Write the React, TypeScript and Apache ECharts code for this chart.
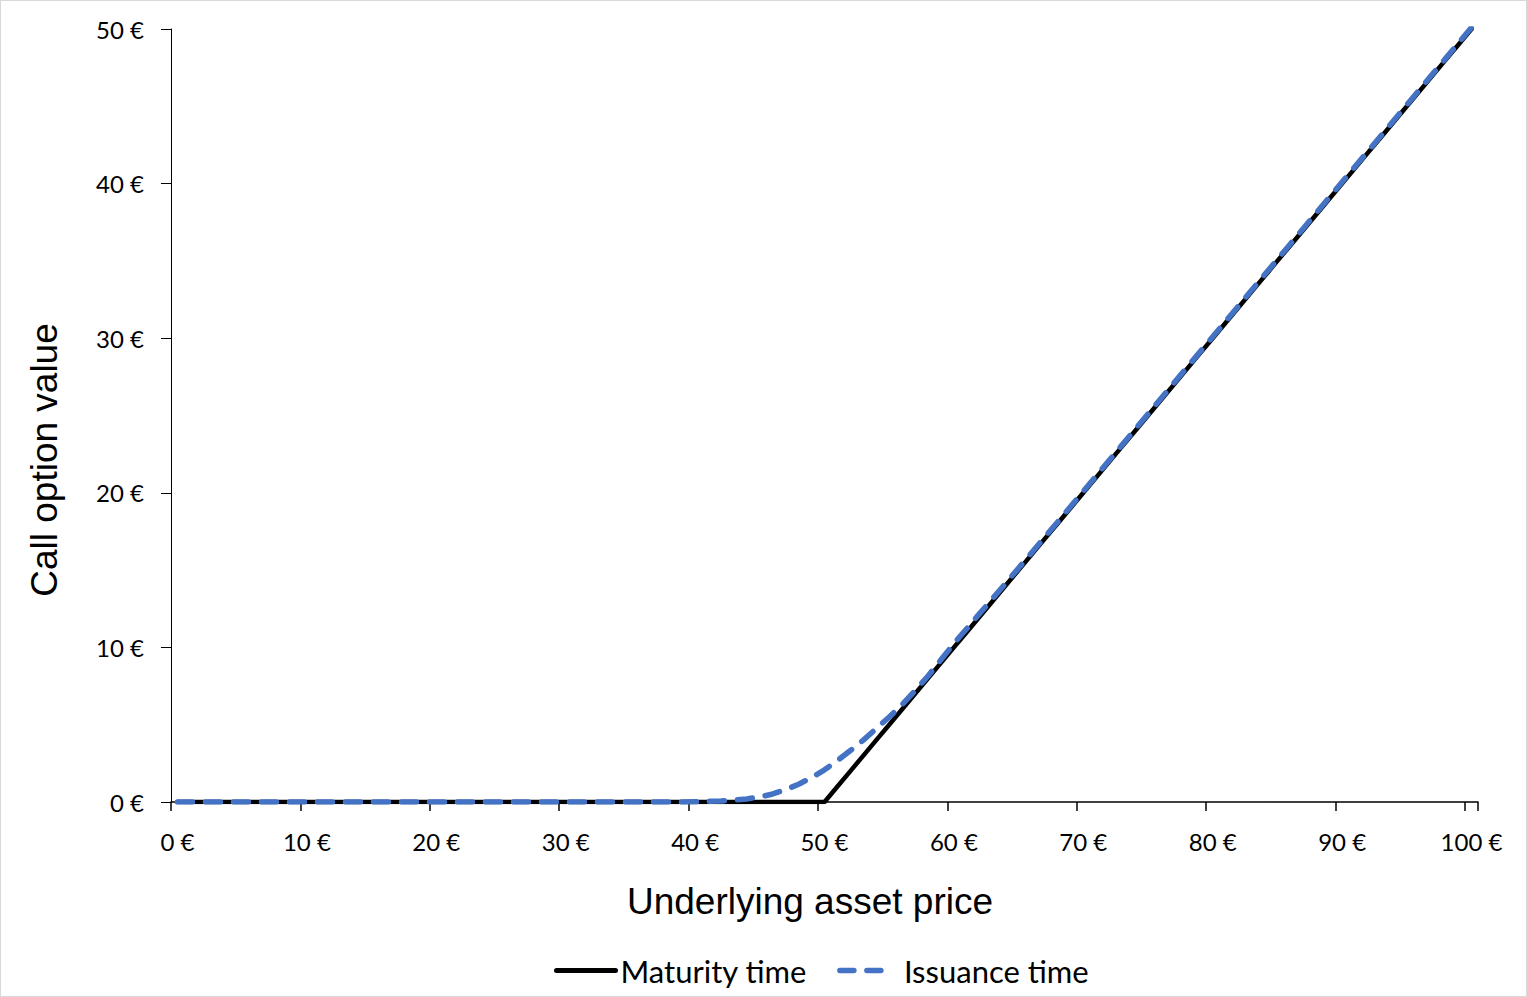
import React, { useEffect, useRef } from "react";
import * as echarts from "echarts";

const prices: string[] = [
  "0 €", "1 €", "2 €", "3 €", "4 €", "5 €", "6 €", "7 €", "8 €", "9 €",
  "10 €", "11 €", "12 €", "13 €", "14 €", "15 €", "16 €", "17 €", "18 €", "19 €",
  "20 €", "21 €", "22 €", "23 €", "24 €", "25 €", "26 €", "27 €", "28 €", "29 €",
  "30 €", "31 €", "32 €", "33 €", "34 €", "35 €", "36 €", "37 €", "38 €", "39 €",
  "40 €", "41 €", "42 €", "43 €", "44 €", "45 €", "46 €", "47 €", "48 €", "49 €",
  "50 €", "51 €", "52 €", "53 €", "54 €", "55 €", "56 €", "57 €", "58 €", "59 €",
  "60 €", "61 €", "62 €", "63 €", "64 €", "65 €", "66 €", "67 €", "68 €", "69 €",
  "70 €", "71 €", "72 €", "73 €", "74 €", "75 €", "76 €", "77 €", "78 €", "79 €",
  "80 €", "81 €", "82 €", "83 €", "84 €", "85 €", "86 €", "87 €", "88 €", "89 €",
  "90 €", "91 €", "92 €", "93 €", "94 €", "95 €", "96 €", "97 €", "98 €", "99 €",
  "100 €",
];

const maturityValues: number[] = [
  0, 0, 0, 0, 0, 0, 0, 0, 0, 0,
  0, 0, 0, 0, 0, 0, 0, 0, 0, 0,
  0, 0, 0, 0, 0, 0, 0, 0, 0, 0,
  0, 0, 0, 0, 0, 0, 0, 0, 0, 0,
  0, 0, 0, 0, 0, 0, 0, 0, 0, 0,
  0, 1, 2, 3, 4, 5, 6, 7, 8, 9,
  10, 11, 12, 13, 14, 15, 16, 17, 18, 19,
  20, 21, 22, 23, 24, 25, 26, 27, 28, 29,
  30, 31, 32, 33, 34, 35, 36, 37, 38, 39,
  40, 41, 42, 43, 44, 45, 46, 47, 48, 49,
  50,
];

const issuanceValues: number[] = [
  0, 0, 0, 0, 0, 0, 0, 0, 0, 0,
  0, 0, 0, 0, 0, 0, 0, 0, 0, 0,
  0, 0, 0, 0, 0, 0, 0, 0, 0, 0,
  0, 0, 0, 0, 0, 0, 0, 0, 0, 0,
  0.02, 0.04, 0.07, 0.12, 0.2, 0.33, 0.52, 0.8, 1.15, 1.58,
  2.08, 2.68, 3.33, 4.0, 4.75, 5.5, 6.3, 7.2, 8.15, 9.2,
  10.25, 11.22, 12.2, 13.17, 14.15, 15.13, 16.12, 17.11, 18.1, 19.1,
  20.1, 21.1, 22.1, 23.1, 24.1, 25.1, 26.1, 27.1, 28.1, 29.1,
  30.1, 31.1, 32.1, 33.1, 34.1, 35.1, 36.1, 37.1, 38.1, 39.1,
  40.1, 41.1, 42.1, 43.1, 44.1, 45.1, 46.1, 47.1, 48.1, 49.1,
  50.1,
];

const seriesNames: string[] = ["Maturity time", "Issuance time"];
const xTitle = "Underlying asset price";
const yTitle = "Call option value";

export default function App() {
  const ref = useRef<HTMLDivElement>(null);

  useEffect(() => {
    if (!ref.current) return;
    const chart = echarts.init(ref.current, null, { renderer: "svg" });
    const tickFont = "Lato, 'DejaVu Sans', sans-serif";
    chart.setOption({
      animation: false,
      backgroundColor: "#ffffff",
      grid: { left: 170, right: 48, top: 28, bottom: 194, containLabel: false },
      xAxis: {
        type: "category",
        data: prices,
        boundaryGap: true,
        axisLine: { show: true, lineStyle: { color: "#000000", width: 1.5 } },
        axisTick: {
          show: true,
          interval: 9,
          alignWithLabel: false,
          inside: false,
          length: 9,
          lineStyle: { color: "#000000", width: 1.5 },
        },
        axisLabel: {
          interval: 9,
          margin: 27,
          color: "#000000",
          fontFamily: tickFont,
          fontSize: 24,
        },
        splitLine: { show: false },
      },
      yAxis: {
        type: "value",
        min: 0,
        max: 50,
        interval: 10,
        axisLine: { show: true, lineStyle: { color: "#000000", width: 1 } },
        axisTick: { show: true, inside: false, length: 10, lineStyle: { color: "#000000", width: 1 } },
        axisLabel: {
          margin: 27,
          color: "#000000",
          fontFamily: tickFont,
          fontSize: 24,
          formatter: "{value} €",
        },
        splitLine: { show: false },
      },
      legend: {
        bottom: 10,
        left: 553,
        padding: 0,
        itemWidth: 59,
        itemHeight: 14,
        itemGap: 30,
        itemStyle: { opacity: 0 },
        lineStyle: { width: 5, cap: "round" },
        textStyle: { color: "#000000", fontFamily: tickFont, fontSize: 31 },
        data: [
          { name: seriesNames[0], lineStyle: { width: 5, type: "solid", cap: "round" } },
          { name: seriesNames[1], lineStyle: { width: 5.5, type: [14, 13, 14, 100], cap: "round" } },
        ],
      },
      series: [
        {
          name: seriesNames[0],
          type: "line",
          data: maturityValues,
          showSymbol: false,
          symbol: "none",
          z: 2,
          lineStyle: { color: "#000000", width: 4.5, cap: "round" },
          itemStyle: { color: "#000000" },
        },
        {
          name: seriesNames[1],
          type: "line",
          data: issuanceValues,
          showSymbol: false,
          symbol: "none",
          z: 3,
          lineStyle: { color: "#4472C4", width: 5.5, type: [15, 13], cap: "round" },
          itemStyle: { color: "#4472C4" },
        },
      ],
      graphic: [
        {
          type: "text",
          x: 43,
          y: 459,
          rotation: Math.PI / 2,
          style: {
            text: yTitle,
            fill: "#000000",
            font: "37px 'Liberation Sans', Arial, sans-serif",
            textAlign: "center",
            textVerticalAlign: "middle",
          },
        },
        {
          type: "text",
          x: 809,
          y: 900,
          style: {
            text: xTitle,
            fill: "#000000",
            font: "37px 'Liberation Sans', Arial, sans-serif",
            textAlign: "center",
            textVerticalAlign: "middle",
          },
        },
      ],
    });
    return () => chart.dispose();
  }, []);

  return (
    <div
      ref={ref}
      style={{
        position: "absolute",
        left: 0,
        top: 0,
        width: 1527,
        height: 997,
        border: "1px solid #d9d9d9",
        boxSizing: "border-box",
      }}
    />
  );
}
